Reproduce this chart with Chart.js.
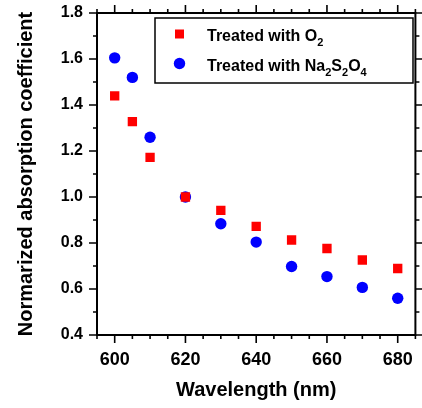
<!DOCTYPE html>
<html>
<head>
<meta charset="utf-8">
<script src="https://cdn.jsdelivr.net/npm/chart.js@4"></script>
<style>
  html, body { margin: 0; padding: 0; background: #fff; }
  #wrap { width: 422px; height: 408px; }
</style>
</head>
<body>
<div id="wrap"><canvas id="chart"></canvas></div>
<script>
const wavelengths = [600, 605, 610, 620, 630, 640, 650, 660, 670, 680];
const treatedO2 = [1.44, 1.328, 1.172, 1.0, 0.942, 0.872, 0.813, 0.776, 0.726, 0.689];
const treatedNa2S2O4 = [1.605, 1.52, 1.26, 1.0, 0.884, 0.804, 0.698, 0.654, 0.607, 0.56];

const xMajorTicks = [600, 620, 640, 660, 680];
const yMajorTicks = [0.4, 0.6, 0.8, 1.0, 1.2, 1.4, 1.6, 1.8];

const FONT = 'Liberation Sans, Arial, sans-serif';

// frame with outward major/minor ticks on all four sides
const framePlugin = {
    id: 'frame',
    beforeDatasetsDraw(chart) {
        const { ctx, chartArea: a, scales: { x, y } } = chart;
        ctx.save();
        ctx.strokeStyle = '#000';
        ctx.lineWidth = 2;
        ctx.strokeRect(a.left, a.top, a.right - a.left, a.bottom - a.top);
        ctx.lineWidth = 1.6;
        ctx.beginPath();
        for (let v = 595; v <= 685; v += 5) {
            const px = x.getPixelForValue(v);
            const len = v % 20 === 0 ? 8 : 4;
            ctx.moveTo(px, a.bottom); ctx.lineTo(px, a.bottom + len);
            ctx.moveTo(px, a.top); ctx.lineTo(px, a.top - len);
        }
        for (let i = 4; i <= 18; i++) {
            const py = y.getPixelForValue(i / 10);
            const len = i % 2 === 0 ? 8 : 4;
            ctx.moveTo(a.left, py); ctx.lineTo(a.left - len, py);
            ctx.moveTo(a.right, py); ctx.lineTo(a.right + len, py);
        }
        ctx.stroke();
        ctx.restore();
    }
};

// legend with subscripts
function drawSubText(ctx, parts, x, y) {
    for (const [txt, sub] of parts) {
        ctx.font = sub ? 'bold 11px ' + FONT : 'bold 16px ' + FONT;
        ctx.fillText(txt, x, sub ? y + 5 : y);
        x += ctx.measureText(txt).width;
    }
}

const legendPlugin = {
    id: 'subLegend',
    afterDraw(chart) {
        const { ctx } = chart;
        ctx.save();
        ctx.strokeStyle = '#000';
        ctx.lineWidth = 1.5;
        ctx.strokeRect(155, 18, 258, 65);
        ctx.fillStyle = '#ff0000';
        ctx.fillRect(175, 29.5, 9, 9);
        ctx.fillStyle = '#0000ff';
        ctx.beginPath();
        ctx.arc(179.5, 63.5, 5.7, 0, Math.PI * 2);
        ctx.fill();
        ctx.fillStyle = '#000';
        ctx.textBaseline = 'alphabetic';
        drawSubText(ctx, [['Treated with O', false], ['2', true]], 207, 41);
        drawSubText(ctx, [['Treated with Na', false], ['2', true], ['S', false], ['2', true], ['O', false], ['4', true]], 207, 70.5);
        ctx.restore();
    }
};

new Chart(document.getElementById('chart'), {
    type: 'scatter',
    data: {
        datasets: [
            {
                label: 'Treated with O2',
                data: wavelengths.map((w, i) => ({ x: w, y: treatedO2[i] })),
                pointStyle: 'rect',
                pointRadius: 6.6,
                backgroundColor: '#ff0000',
                borderWidth: 0
            },
            {
                label: 'Treated with Na2S2O4',
                data: wavelengths.map((w, i) => ({ x: w, y: treatedNa2S2O4[i] })),
                pointStyle: 'circle',
                pointRadius: 5.7,
                backgroundColor: '#0000ff',
                borderWidth: 0
            }
        ]
    },
    options: {
        responsive: true,
        maintainAspectRatio: false,
        animation: false,
        layout: { padding: { top: 13, right: 2, left: 0, bottom: 0 } },
        plugins: { legend: { display: false }, tooltip: { enabled: false } },
        scales: {
            x: {
                type: 'linear',
                min: 595,
                max: 685,
                afterFit: s => { s.height = 73; s.paddingLeft = 0; s.paddingRight = 0; },
                afterBuildTicks: s => { s.ticks = xMajorTicks.map(v => ({ value: v })); },
                grid: { display: false },
                border: { display: false },
                ticks: {
                    color: '#000',
                    padding: 6,
                    font: { family: FONT, size: 18, weight: 'bold' },
                    callback: v => String(v)
                },
                title: {
                    display: true,
                    text: 'Wavelength (nm)',
                    color: '#000',
                    font: { family: FONT, size: 20, weight: 'bold' },
                    padding: { top: 0, bottom: 6 }
                }
            },
            y: {
                min: 0.4,
                max: 1.8,
                afterFit: s => { s.width = 97; s.paddingTop = 0; s.paddingBottom = 0; },
                afterBuildTicks: s => { s.ticks = yMajorTicks.map(v => ({ value: v })); },
                grid: { display: false },
                border: { display: false },
                ticks: {
                    color: '#000',
                    padding: 6,
                    font: { family: FONT, size: 16, weight: 'bold' },
                    callback: v => v.toFixed(1)
                },
                title: {
                    display: true,
                    text: 'Normarized absorption coefficient',
                    color: '#000',
                    font: { family: FONT, size: 20, weight: 'bold' },
                    padding: { top: 14, bottom: 0 }
                }
            }
        }
    },
    plugins: [framePlugin, legendPlugin]
});
</script>
</body>
</html>
